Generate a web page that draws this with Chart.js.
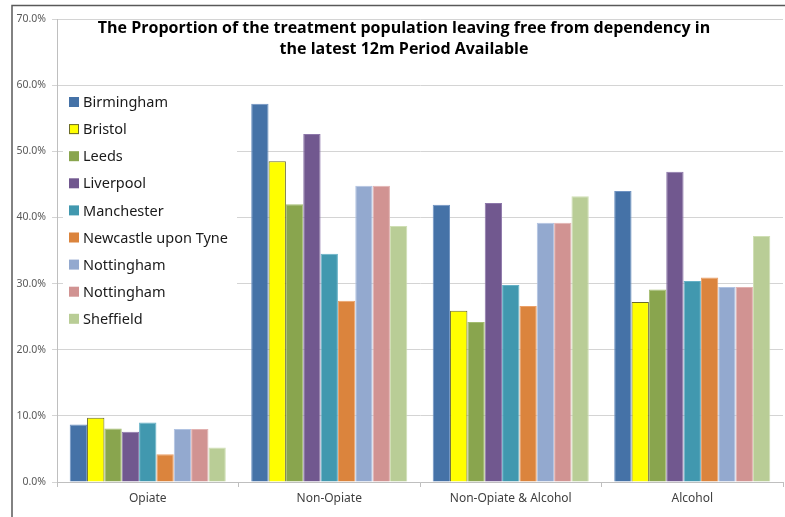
<!DOCTYPE html>
<html>
<head>
<meta charset="utf-8">
<script src="https://cdn.jsdelivr.net/npm/chart.js@4.4.0/dist/chart.umd.min.js"></script>
<style>
  body { margin: 0; background: #fff; }
  #wrap { position: relative; width: 785px; height: 517px; }
</style>
</head>
<body>
<div id="wrap"><canvas id="chart"></canvas></div>
<script>
// categories on the x axis
const categories = ['Opiate', 'Non-Opiate', 'Non-Opiate & Alcohol', 'Alcohol'];

// one array per area, values in percent
const birmingham = [8.7, 57.2, 41.9, 44.0];
const bristol = [9.7, 48.5, 25.9, 27.2];
const leeds = [8.1, 42.0, 24.2, 29.1];
const liverpool = [7.6, 52.6, 42.2, 46.9];
const manchester = [9.0, 34.5, 29.8, 30.4];
const newcastle = [4.2, 27.4, 26.6, 30.9];
const nottingham1 = [8.0, 44.8, 39.2, 29.5];
const nottingham2 = [8.0, 44.8, 39.2, 29.5];
const sheffield = [5.2, 38.7, 43.2, 37.2];

const seriesNames = ['Birmingham', 'Bristol', 'Leeds', 'Liverpool', 'Manchester',
    'Newcastle upon Tyne', 'Nottingham', 'Nottingham', 'Sheffield'];
const seriesValues = [birmingham, bristol, leeds, liverpool, manchester,
    newcastle, nottingham1, nottingham2, sheffield];
const seriesColors = ['#4572a7', '#ffff00', '#89a54e', '#71588f', '#4198af',
    '#db843d', '#93a9cf', '#d19392', '#b9cd96'];
const seriesBorders = ['#6f93c2', '#6b6b2a', '#a4bd70', '#8d77aa', '#66b1c6',
    '#eba068', '#b1c3e2', '#e2b1b0', '#cfdfb4'];

const yTicks = [0, 10, 20, 30, 40, 50, 60, 70];

const titleLines = [
    'The Proportion of the treatment population leaving free from dependency in',
    'the latest 12m Period Available'
];

// frame lines round the picture
const framePlugin = {
    id: 'frame',
    beforeDraw(chart) {
        const ctx = chart.ctx;
        ctx.save();
        ctx.fillStyle = '#fff';
        ctx.fillRect(0, 0, chart.width, chart.height);
        ctx.strokeStyle = '#595959';
        ctx.lineWidth = 1.5;
        ctx.beginPath();
        ctx.moveTo(12, chart.height);
        ctx.lineTo(12, 5.5);
        ctx.lineTo(chart.width, 5.5);
        ctx.stroke();
        ctx.restore();
    }
};

// title drawn inside the plot area
const titlePlugin = {
    id: 'insideTitle',
    afterDraw(chart) {
        const ctx = chart.ctx;
        ctx.save();
        ctx.fillStyle = '#000';
        ctx.font = 'bold 16px "Open Sans", sans-serif';
        ctx.textAlign = 'center';
        ctx.textBaseline = 'middle';
        ctx.fillText(titleLines[0], 404, 28);
        ctx.fillText(titleLines[1], 404, 49);
        ctx.restore();
    }
};

// legend box sitting inside the plot area on the left
const legendPlugin = {
    id: 'insideLegend',
    afterDraw(chart) {
        const ctx = chart.ctx;
        ctx.save();
        ctx.fillStyle = '#fff';
        ctx.fillRect(63, 90, 174, 240);
        ctx.font = '14.5px "Noto Sans", sans-serif';
        ctx.textBaseline = 'middle';
        chart.data.datasets.forEach((ds, i) => {
            const y = 102 + i * 27.1;
            ctx.fillStyle = ds.backgroundColor;
            ctx.fillRect(69, y - 5, 10, 10);
            if (ds.backgroundColor === '#ffff00') {
                ctx.strokeStyle = '#6b6b2a';
                ctx.lineWidth = 1;
                ctx.strokeRect(69.5, y - 4.5, 9, 9);
            }
            ctx.fillStyle = '#1a1a1a';
            ctx.fillText(ds.label, 83, y + 1);
        });
        ctx.restore();
    }
};

const datasets = seriesNames.map((name, i) => ({
    label: name,
    data: seriesValues[i],
    backgroundColor: seriesColors[i],
    borderColor: seriesBorders[i],
    borderWidth: 1,
    barPercentage: 1,
    categoryPercentage: 0.86
}));

new Chart(document.getElementById('chart'), {
    type: 'bar',
    data: { labels: categories, datasets: datasets },
    options: {
        responsive: true,
        maintainAspectRatio: false,
        animation: false,
        layout: { padding: { top: 19, right: 2, left: 0, bottom: 0 } },
        plugins: {
            legend: { display: false },
            title: { display: false },
            tooltip: { enabled: false }
        },
        scales: {
            x: {
                grid: { display: true, drawOnChartArea: false, offset: true, tickLength: 5, color: '#bfbfbf' },
                border: { color: '#bfbfbf' },
                ticks: { color: '#404040', font: { size: 12, family: '"Noto Sans", sans-serif' }, padding: 4 },
                afterFit: s => { s.height = 35; }
            },
            y: {
                min: 0,
                max: 70,
                afterBuildTicks: s => { s.ticks = yTicks.map(v => ({ value: v })); },
                grid: { color: '#d4d4d4', tickLength: 5 },
                border: { color: '#bfbfbf' },
                ticks: {
                    color: '#595959',
                    font: { size: 10.5, family: '"Noto Sans", sans-serif' },
                    padding: 6,
                    callback: v => v.toFixed(1) + '%'
                },
                afterFit: s => { s.width = 57; }
            }
        }
    },
    plugins: [framePlugin, titlePlugin, legendPlugin]
});
</script>
</body>
</html>
